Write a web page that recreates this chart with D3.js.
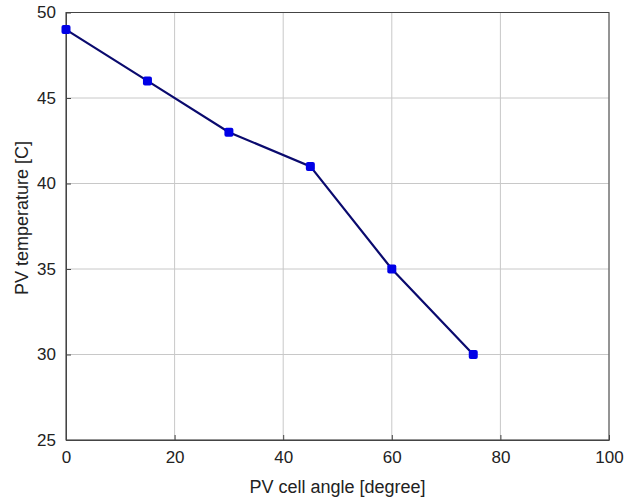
<!DOCTYPE html>
<html>
<head>
<meta charset="utf-8">
<script src="https://cdn.jsdelivr.net/npm/d3@7"></script>
<style>
body { margin: 0; background: #fff; }
text { font-family: "Liberation Sans", Arial, sans-serif; fill: #222; }
</style>
</head>
<body>
<script>
// chart data
var angles = [0, 15, 30, 45, 60, 75];
var temps = [49, 46, 43, 41, 35, 30];
var xTicks = [0, 20, 40, 60, 80, 100];
var yTicks = [25, 30, 35, 40, 45, 50];

var W = 636, H = 499;
var mLeft = 66, mRight = 609, mTop = 12.5, mBottom = 440;

var svg = d3.select("body").append("svg").attr("width", W).attr("height", H);

var x = d3.scaleLinear().domain([0, 100]).range([mLeft, mRight]);
var y = d3.scaleLinear().domain([25, 50]).range([mBottom, mTop]);

// grid
svg.selectAll(".gx").data(xTicks).enter().append("line")
	.attr("x1", function(d){return x(d);}).attr("x2", function(d){return x(d);})
	.attr("y1", mTop).attr("y2", mBottom)
	.style("stroke", "#c8c8c8").style("stroke-width", 1);
svg.selectAll(".gy").data(yTicks).enter().append("line")
	.attr("y1", function(d){return y(d);}).attr("y2", function(d){return y(d);})
	.attr("x1", mLeft).attr("x2", mRight)
	.style("stroke", "#c8c8c8").style("stroke-width", 1);

// box
svg.append("rect").attr("x", mLeft).attr("y", mTop)
	.attr("width", mRight-mLeft).attr("height", mBottom-mTop)
	.style("fill", "none").style("stroke", "#444").style("stroke-width", 1);

// axes with inward ticks
var xAxis = svg.append("g").attr("transform", "translate(0," + mBottom + ")")
	.call(d3.axisBottom(x).tickValues(xTicks).tickSizeInner(-5).tickSizeOuter(0).tickPadding(11));
var yAxis = svg.append("g").attr("transform", "translate(" + mLeft + ",0)")
	.call(d3.axisLeft(y).tickValues(yTicks).tickSizeInner(-5).tickSizeOuter(0).tickPadding(10));
[xAxis, yAxis].forEach(function(g){
	g.select(".domain").style("stroke", "#444");
	g.selectAll(".tick line").style("stroke", "#444");
	g.selectAll("text").style("font-size", "17px")
		.style("font-family", "'Liberation Sans', Arial, sans-serif").style("fill", "#222");
});

// line
var line = d3.line().x(function(d,i){return x(angles[i]);}).y(function(d){return y(d);});
svg.append("path").datum(temps).attr("d", line)
	.style("fill", "none").style("stroke", "#0a0a6e").style("stroke-width", 2.2);

svg.selectAll(".pt").data(temps).enter().append("rect")
	.attr("x", function(d,i){return x(angles[i]) - 4.5;})
	.attr("y", function(d){return y(d) - 4.5;})
	.attr("width", 9).attr("height", 9).attr("rx", 2)
	.style("fill", "#0000e6");

// labels
svg.append("text").attr("x", (mLeft+mRight)/2).attr("y", 493)
	.attr("text-anchor", "middle").style("font-size", "18px").text("PV cell angle [degree]");
svg.append("text").attr("transform", "translate(28,218) rotate(-90)")
	.attr("text-anchor", "middle").style("font-size", "18px").text("PV temperature [C]");
</script>
</body>
</html>
